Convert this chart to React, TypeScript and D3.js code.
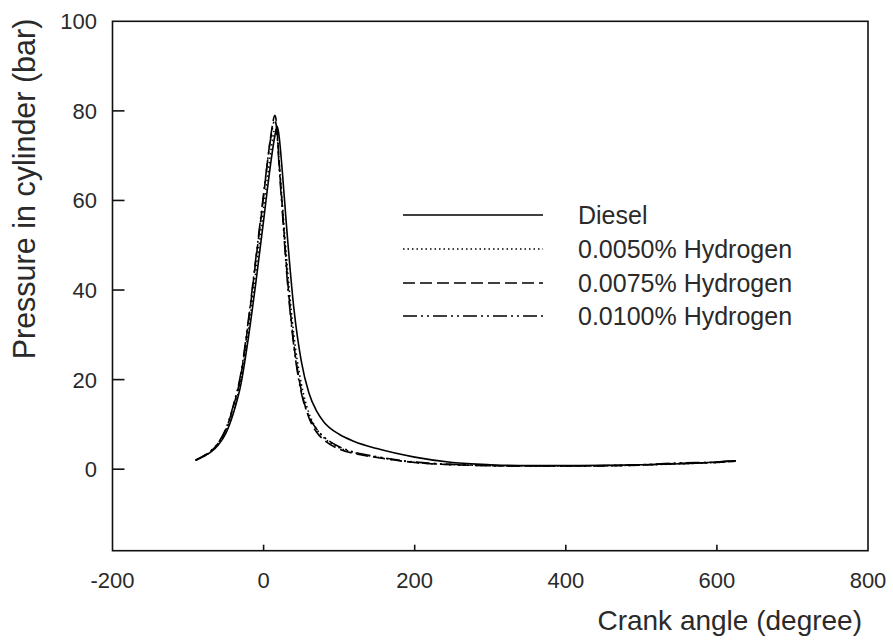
import React from "react";
import * as d3 from "d3";

const angles = [-90, -80, -70, -60, -50, -40, -30, -20, -10, 0, 5, 10, 15, 18, 20, 25, 30, 40, 50, 60, 70, 80, 100, 120, 150, 200, 250, 300, 350, 400, 450, 500, 550, 600, 625];
const diesel = [2.0, 2.8, 3.8, 5.4, 8.0, 12.5, 19, 29.5, 42, 55.5, 62.5, 69, 74.5, 76.5, 75, 66, 55, 36, 24, 17, 13, 10.5, 7.8, 6.2, 4.6, 2.7, 1.5, 1.0, 0.8, 0.8, 0.85, 1.0, 1.2, 1.6, 1.9];
const h0050 = [2.0, 2.8, 3.9, 5.6, 8.4, 13, 20, 31, 44.5, 58, 65, 71.5, 76, 74.5, 70, 59, 48, 30, 19, 12.5, 9, 7, 4.8, 3.7, 2.7, 1.5, 1.0, 0.8, 0.7, 0.7, 0.75, 0.9, 1.2, 1.5, 1.8];
const h0075 = [2.0, 2.9, 4.0, 5.8, 8.8, 14, 21, 33, 47, 61, 68.5, 75, 79, 75.5, 70, 58, 46, 28, 17.5, 11.5, 8.3, 6.5, 4.5, 3.5, 2.6, 1.5, 1.0, 0.8, 0.7, 0.7, 0.75, 0.9, 1.3, 1.5, 1.8];
const h0100 = [2.0, 2.9, 4.1, 5.9, 9.0, 14.3, 21.5, 33.5, 47.5, 61.5, 68.5, 74.5, 78, 74.5, 69, 57, 45, 27.5, 17, 11.8, 9, 7.2, 5, 3.8, 2.8, 1.6, 1.1, 0.8, 0.7, 0.7, 0.8, 1.0, 1.4, 1.6, 1.9];

const seriesNames = ["Diesel", "0.0050% Hydrogen", "0.0075% Hydrogen", "0.0100% Hydrogen"];
const xTicks = [-200, 0, 200, 400, 600, 800];
const yTicks = [0, 20, 40, 60, 80, 100];

const dashes = [null, "1.5,3", "12,5", "14,4,2,4,2,4"];

export default function App() {
  const x = d3.scaleLinear().domain([-200, 800]).range([112.5, 868]);
  const y = d3.scaleLinear().domain([-18.2, 100]).range([550.7, 21.3]);
  const allSeries = [diesel, h0050, h0075, h0100];
  const line = d3
    .line<[number, number]>()
    .x((d) => x(d[0]))
    .y((d) => y(d[1]))
    .curve(d3.curveMonotoneX);

  const font = "Arial, 'Liberation Sans', sans-serif";
  const legendY = [215, 249, 283, 316];

  return (
    <svg width={893} height={641} style={{ position: "absolute", left: 0, top: 0, background: "#fff" }} fontFamily={font}>
      <rect x={0} y={0} width={893} height={641} fill="#fff" />
      {allSeries.map((s, i) => (
        <path
          key={i}
          d={line(angles.map((a, j) => [a, s[j]] as [number, number])) || ""}
          fill="none"
          stroke="#000"
          strokeWidth={1.6}
          strokeDasharray={dashes[i] || undefined}
        />
      ))}
      <rect x={x(-200)} y={y(100)} width={x(800) - x(-200)} height={y(-18.2) - y(100)} fill="none" stroke="#111" strokeWidth={1.6} />
      {yTicks.filter((t) => t < 100).map((t) => (
        <line key={"yt" + t} x1={x(-200)} x2={x(-200) + 12} y1={y(t)} y2={y(t)} stroke="#111" strokeWidth={1.6} />
      ))}
      {xTicks.filter((t) => t > -200 && t < 800).map((t) => (
        <line key={"xt" + t} x1={x(t)} x2={x(t)} y1={y(-18.2)} y2={y(-18.2) - 6} stroke="#111" strokeWidth={1.6} />
      ))}
      {yTicks.map((t) => (
        <text key={"yl" + t} x={97} y={y(t) + 8} textAnchor="end" fontSize={22} fill="#2a2a2a">
          {t}
        </text>
      ))}
      {xTicks.map((t) => (
        <text key={"xl" + t} x={x(t)} y={588} textAnchor="middle" fontSize={22} fill="#2a2a2a">
          {t}
        </text>
      ))}
      <text x={862} y={630} textAnchor="end" fontSize={28} fill="#2a2a2a">
        Crank angle (degree)
      </text>
      <text transform="translate(35,189) rotate(-90)" textAnchor="middle" fontSize={30.5} fill="#2a2a2a">
        Pressure in cylinder (bar)
      </text>
      {seriesNames.map((n, i) => (
        <g key={n}>
          <line x1={403} x2={543} y1={legendY[i]} y2={legendY[i]} stroke="#000" strokeWidth={1.6} strokeDasharray={dashes[i] || undefined} />
          <text x={578} y={legendY[i] + 8.5} fontSize={25} fill="#2a2a2a">
            {n}
          </text>
        </g>
      ))}
    </svg>
  );
}
